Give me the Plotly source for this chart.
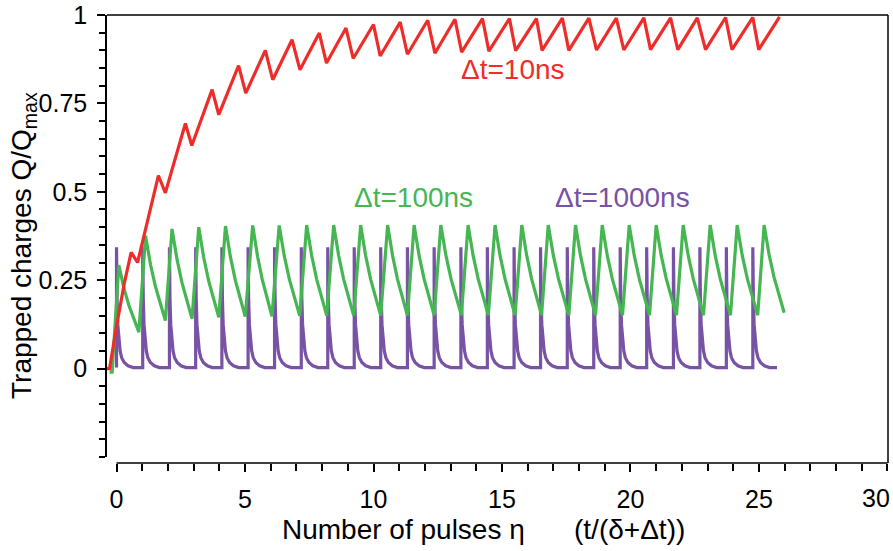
import plotly.graph_objects as go

# ---------------- data ----------------
# Δt = 10 ns (red): saw-tooth, peaks and troughs
red_start_x = [-0.55, -0.27, 0.0, 0.3]
red_start_y = [0.0, 0.0, 0.12, 0.24]
red_peak_x = [0.57, 1.63, 2.68, 3.72, 4.75, 5.79, 6.83, 7.89, 8.93, 10.0, 11.04, 12.11,
              13.17, 14.24, 15.29, 16.34, 17.35, 18.38, 19.45, 20.52, 21.56, 22.6, 23.7,
              24.76, 25.8]
red_peak_y = [0.329, 0.546, 0.693, 0.789, 0.857, 0.900, 0.930, 0.949, 0.963, 0.973, 0.980,
              0.985, 0.988, 0.990, 0.990, 0.990, 0.991, 0.991, 0.991, 0.992, 0.992, 0.992,
              0.993, 0.993, 0.995]
red_trough_x = [0.82, 1.9, 2.93, 3.98, 5.03, 6.08, 7.14, 8.17, 9.21, 10.26, 11.32, 12.39,
                13.43, 14.49, 15.53, 16.56, 17.6, 18.68, 19.74, 20.78, 21.84, 22.92, 23.95,
                24.99]
red_trough_y = [0.300, 0.497, 0.631, 0.718, 0.779, 0.817, 0.845, 0.864, 0.877, 0.884, 0.889,
                0.892, 0.895, 0.898, 0.899, 0.900, 0.900, 0.901, 0.901, 0.902, 0.902, 0.902,
                0.902, 0.902]

# Δt = 100 ns (green)
green_start_x = [-0.27, -0.17]
green_start_y = [-0.01, -0.01]
green_peak_x = [0.09, 1.13, 2.16, 3.2, 4.24, 5.3, 6.33, 7.4, 8.45, 9.5, 10.55, 11.58, 12.62,
                13.68, 14.73, 15.77, 16.8, 17.86, 18.9, 19.95, 21.0, 22.05, 23.1, 24.15, 25.2]
green_peak_y = [0.293, 0.376, 0.395, 0.400, 0.403, 0.405, 0.405, 0.406, 0.406, 0.406, 0.406,
                0.406, 0.406, 0.406, 0.406, 0.406, 0.406, 0.406, 0.406, 0.406, 0.406, 0.406,
                0.406, 0.406, 0.406]
green_trough_x = [0.87, 1.9, 2.94, 3.98, 5.01, 6.05, 7.13, 8.18, 9.23, 10.28, 11.32, 12.36,
                  13.42, 14.47, 15.51, 16.54, 17.6, 18.64, 19.69, 20.74, 21.79, 22.84, 23.89,
                  24.95]
green_trough_y = [0.103, 0.136, 0.141, 0.145, 0.147, 0.148, 0.149, 0.150, 0.150, 0.150, 0.150,
                  0.151, 0.151, 0.151, 0.151, 0.151, 0.151, 0.151, 0.151, 0.151, 0.151, 0.151,
                  0.151, 0.151]
green_end_x = 25.98
green_end_y = 0.158
# decay profile inside one period: (fraction of interval, fraction of drop)
green_decay_profile = [(0.25, 0.34), (0.5, 0.60), (0.75, 0.81)]

# Δt = 1000 ns (purple)
purple_spike_x = [0.0, 1.02, 2.06, 3.08, 4.1, 5.12, 6.15, 7.19, 8.22, 9.25, 10.28, 11.32,
                  12.36, 13.4, 14.43, 15.47, 16.5, 17.54, 18.57, 19.6, 20.63, 21.67, 22.7,
                  23.73, 24.76]
purple_peak = 0.343
purple_base = 0.003
purple_end_x = 25.7
# (time after spike, value)
purple_decay = [(0.02, 0.20), (0.05, 0.125), (0.09, 0.08), (0.14, 0.05), (0.2, 0.031),
                (0.3, 0.017), (0.45, 0.008), (0.65, 0.003)]

x_ticks = [0, 5, 10, 15, 20, 25]
x_last_tick_label = "30"
y_ticks = [0, 0.25, 0.5, 0.75, 1]
y_tick_text = ["0", "0.25", "0.5", "0.75", "1"]

# ---------------- build polylines ----------------
red_x, red_y = list(red_start_x), list(red_start_y)
for i in range(len(red_peak_x)):
    red_x.append(red_peak_x[i]); red_y.append(red_peak_y[i])
    if i < len(red_trough_x):
        red_x.append(red_trough_x[i]); red_y.append(red_trough_y[i])

g_x, g_y = list(green_start_x), list(green_start_y)
for i in range(len(green_peak_x)):
    px, py = green_peak_x[i], green_peak_y[i]
    if i < len(green_trough_x):
        tx, ty = green_trough_x[i], green_trough_y[i]
    else:
        tx, ty = green_end_x, green_end_y
    g_x.append(px); g_y.append(py)
    for ft, fd in green_decay_profile:
        g_x.append(px + ft * (tx - px)); g_y.append(py - fd * (py - ty))
    g_x.append(tx); g_y.append(ty)

p_x, p_y = [], []
for sx in purple_spike_x:
    p_x += [sx, sx]; p_y += [purple_base, purple_peak]
    for dt, v in purple_decay:
        p_x.append(sx + dt); p_y.append(v)
p_x.append(purple_end_x); p_y.append(purple_base)

RED = "#EE2D2A"
GREEN = "#46B653"
PURPLE = "#7852A4"
FONT = "Liberation Sans, Arial, sans-serif"

fig = go.Figure()
fig.add_trace(go.Scatter(x=p_x, y=p_y, mode="lines", line=dict(color=PURPLE, width=3.2),
                         showlegend=False, hoverinfo="skip"))
fig.add_trace(go.Scatter(x=g_x, y=g_y, mode="lines", line=dict(color=GREEN, width=3.2),
                         showlegend=False, hoverinfo="skip"))
fig.add_trace(go.Scatter(x=red_x, y=red_y, mode="lines", line=dict(color=RED, width=3.2),
                         showlegend=False, hoverinfo="skip"))

L, R, T, B = 107, 5, 15, 88
W, H = 893, 551
ph = H - T - B
pw = W - L - R

def px2paper_x(p):
    return (p - L) / pw

def py2paper_y(p):
    return (H - B - p) / ph

fig.update_layout(
    template="none",
    width=W, height=H, autosize=False,
    margin=dict(l=L, r=R, t=T, b=B, pad=0, autoexpand=False),
    plot_bgcolor="white", paper_bgcolor="white",
    font=dict(family=FONT, size=25, color="black"),
    xaxis=dict(range=[-0.37, 30.02], anchor="free", position=0, automargin=False,
               tickvals=x_ticks, ticks="outside", ticklen=8, tickwidth=1.5, tickcolor="black",
               ticklabelstandoff=6,
               minor=dict(dtick=1, tick0=0, ticks="outside", ticklen=7, tickwidth=1.5,
                          tickcolor="black", showgrid=False),
               showline=False, showgrid=False, zeroline=False,
               tickfont=dict(family=FONT, size=25, color="black")),
    yaxis=dict(range=[-0.25, 1], domain=[py2paper_y(457), 1], automargin=False,
               tickvals=y_ticks, ticktext=y_tick_text,
               ticks="outside", ticklen=8, tickwidth=1.5, tickcolor="black",
               ticklabelstandoff=5, ticklabeloverflow="allow",
               minor=dict(dtick=0.05, tick0=0, ticks="outside", ticklen=6, tickwidth=1.5,
                          tickcolor="black", showgrid=False),
               showline=True, linecolor="black", linewidth=1.5,
               showgrid=False, zeroline=False,
               tickfont=dict(family=FONT, size=25, color="black")),
    shapes=[
        dict(type="line", xref="x", yref="paper", x0=0, x1=30, y0=0, y1=0,
             line=dict(color="black", width=1.5)),
        dict(type="line", xref="paper", yref="paper", x0=0, x1=1, y0=1, y1=1,
             line=dict(color="black", width=1.5)),
        dict(type="line", xref="paper", yref="paper", x0=1, x1=1, y0=0, y1=1,
             line=dict(color="black", width=1.5)),
    ],
)

annotations = [
    dict(text="Δt=10ns", x=15.42, y=0.845, xref="x", yref="y", showarrow=False,
         font=dict(family=FONT, size=28, color=RED), xanchor="center", yanchor="middle"),
    dict(text="Δt=100ns", x=11.55, y=0.484, xref="x", yref="y", showarrow=False,
         font=dict(family=FONT, size=28, color=GREEN), xanchor="center", yanchor="middle"),
    dict(text="Δt=1000ns", x=19.68, y=0.484, xref="x", yref="y", showarrow=False,
         font=dict(family=FONT, size=28, color=PURPLE), xanchor="center", yanchor="middle"),
    dict(text=x_last_tick_label,
         x=px2paper_x(892), y=py2paper_y(498), xref="paper", yref="paper", showarrow=False,
         font=dict(family=FONT, size=25, color="black"), xanchor="right", yanchor="middle"),
    dict(text="Number of pulses η",
         x=px2paper_x(403), y=py2paper_y(529), xref="paper", yref="paper", showarrow=False,
         font=dict(family=FONT, size=28, color="black"), xanchor="center", yanchor="middle"),
    dict(text="(t/(δ+Δt))",
         x=px2paper_x(629), y=py2paper_y(529), xref="paper", yref="paper", showarrow=False,
         font=dict(family=FONT, size=28, color="black"), xanchor="center", yanchor="middle"),
    dict(text="Trapped charges Q/Q<sub>max</sub>", textangle=-90,
         x=px2paper_x(23), y=py2paper_y(246), xref="paper", yref="paper", showarrow=False,
         font=dict(family=FONT, size=28, color="black"), xanchor="center", yanchor="middle"),
]
fig.update_layout(annotations=annotations)

fig.write_html("out.html",
               config={"displayModeBar": False},
               post_script="document.body.style.margin='0';document.body.style.overflow='hidden';")
